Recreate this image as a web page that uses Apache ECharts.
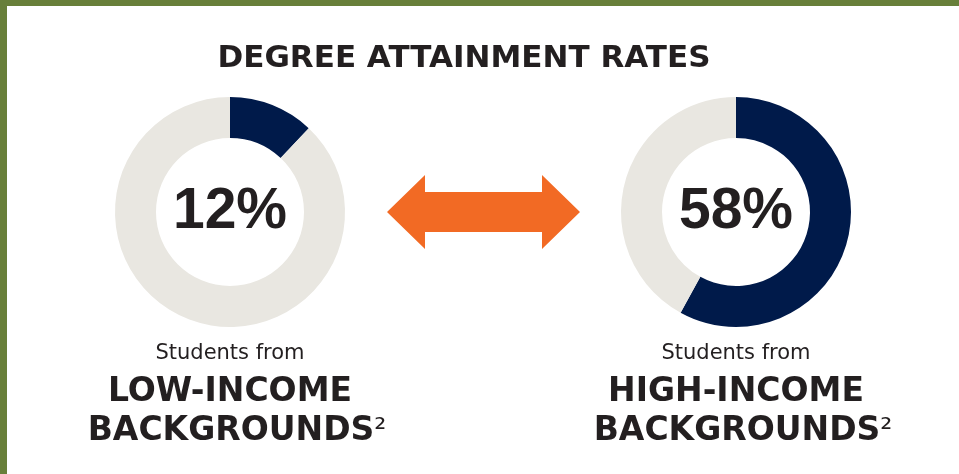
<!DOCTYPE html>
<html>
<head>
<meta charset="utf-8">
<style>
  html, body { margin: 0; padding: 0; background: #ffffff; }
  #chart { width: 959px; height: 474px; }
</style>
<script src="https://cdn.jsdelivr.net/npm/echarts@6/dist/echarts.min.js"></script>
</head>
<body>
<div id="chart"></div>
<script>
var groups = ['LOW-INCOME', 'HIGH-INCOME'];
var attained = [12, 58];
var notAttained = [88, 42];
var centersX = [230, 736];

var navy = '#001a4a';
var stone = '#e9e7e1';
var ink = '#231f20';
var orange = '#f26a24';
var olive = '#687f3a';
var font = 'DejaVu Sans';

var chart = echarts.init(document.getElementById('chart'), null, { renderer: 'canvas' });

var series = groups.map(function (g, i) {
  return {
    type: 'pie',
    name: g,
    center: [centersX[i], 212],
    radius: [74, 115],
    startAngle: 90,
    clockwise: true,
    silent: true,
    avoidLabelOverlap: false,
    labelLine: { show: false },
    itemStyle: { borderWidth: 0 },
    data: [
      {
        value: attained[i],
        itemStyle: { color: navy },
        label: {
          show: true,
          position: 'center',
          formatter: '{c}%',
          color: ink,
          fontFamily: 'Liberation Sans',
          fontWeight: 'bold',
          fontSize: 57,
          padding: [6, 0, 0, 0]
        }
      },
      { value: notAttained[i], itemStyle: { color: stone }, label: { show: false } }
    ]
  };
});

var graphics = [
  { type: 'rect', shape: { x: 0, y: 0, width: 959, height: 6 }, style: { fill: olive } },
  { type: 'rect', shape: { x: 0, y: 0, width: 7, height: 474 }, style: { fill: olive } },
  {
    type: 'polygon',
    shape: {
      points: [[387, 212], [425, 175], [425, 192], [542, 192], [542, 175],
               [580, 212], [542, 249], [542, 232], [425, 232], [425, 249]]
    },
    style: { fill: orange }
  },
  {
    type: 'text',
    x: 464, y: 59,
    style: {
      text: 'DEGREE ATTAINMENT RATES', fill: ink, font: 'bold 31px "' + font + '"',
      textAlign: 'center', textVerticalAlign: 'middle'
    }
  }
];

groups.forEach(function (g, i) {
  graphics.push({
    type: 'text',
    x: centersX[i], y: 354,
    style: {
      text: 'Students from', fill: ink, font: '21px "' + font + '"',
      textAlign: 'center', textVerticalAlign: 'middle'
    }
  });
  graphics.push({
    type: 'text',
    x: centersX[i], y: 392,
    style: {
      text: g, fill: ink, font: 'bold 33px "' + font + '"',
      textAlign: 'center', textVerticalAlign: 'middle'
    }
  });
  graphics.push({
    type: 'text',
    x: centersX[i] + 7, y: 431,
    style: {
      text: '{b|BACKGROUNDS}{s|²}',
      textAlign: 'center', textVerticalAlign: 'middle',
      rich: {
        b: { fill: ink, fontFamily: font, fontWeight: 'bold', fontSize: 33 },
        s: { fill: ink, fontFamily: font, fontSize: 30 }
      }
    }
  });
});

chart.setOption({
  animation: false,
  series: series,
  graphic: graphics
});
</script>
</body>
</html>
